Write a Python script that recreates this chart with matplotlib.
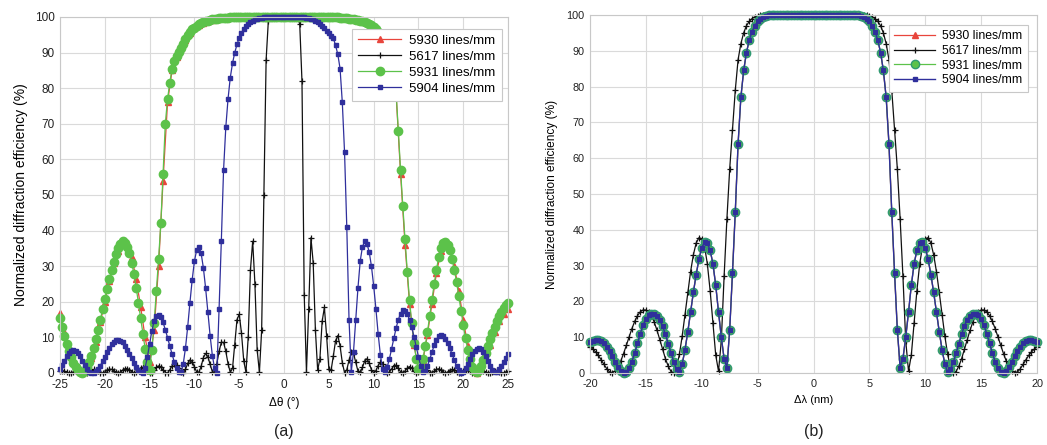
import numpy as np
import matplotlib
matplotlib.use('Agg')
import matplotlib.pyplot as plt

plt.rcParams['font.family'] = ['Liberation Sans', 'DejaVu Sans']
plt.rcParams['axes.unicode_minus'] = False

labels = ['5930 lines/mm', '5617 lines/mm', '5931 lines/mm', '5904 lines/mm']
colors = ['#e8453c', '#111111', '#5cc24a', '#2f2f9c']

# ---- panel (a): angular selectivity, sampled every 0.25 deg (red every 0.5 deg)
theta = np.linspace(-25, 25, 201)
theta_red = np.linspace(-25, 25, 101)

eff_a_5930 = [
    16.8, 11.5, 7, 3.5, 1.2, 0.1, 1.2, 4.3, 8.8, 14.2,
    20, 25.8, 30.8, 34.4, 36.5, 36, 32.5, 26.5, 18.5, 10,
    3, 12, 30, 54, 76, 85, 88.8, 91.2, 93.6, 95.6,
    96.9, 97.8, 98.4, 98.9, 99.2, 99.4, 99.6, 99.8, 99.9,
    100, 100, 100, 100, 100, 100, 100, 100, 100, 100, 100, 100,
    100, 100, 100, 100, 100, 100, 100, 100, 100, 100, 100,
    99.9, 99.8, 99.6, 99.4, 99.1, 98.9, 98.5, 98, 97.1, 95.7,
    93.8, 91.2, 87.5, 78.5, 56, 36, 19.5, 8, 0.8, 3.5,
    10.8, 19.5, 28, 34.2, 36.5, 35, 30, 23, 15, 7.5,
    2.4, 0.1, 1.3, 4.3, 8, 11.5, 14.5, 16.5, 18,
]

eff_a_5617 = [
    0.62, 0.69, 0.53, 0.23, 0.02, 0.05, 0.33, 0.66, 0.8, 0.66,
    0.33, 0.05, 0.03, 0.33, 0.75, 0.99, 0.88, 0.5, 0.12, 0.0,
    0.28, 0.74, 1.07, 1.03, 0.65, 0.2, 0.0, 0.23, 0.76, 1.2,
    1.26, 0.87, 0.33, 0.0, 0.19, 0.8, 1.4, 1.6, 1.2, 0.5,
    0.05, 0.13, 0.8, 1.6, 2.0, 1.6, 0.8, 0.13, 0.03, 0.9,
    2.0, 2.6, 2.3, 1.3, 0.3, 0.03, 1.0, 2.7, 3.7, 3.2,
    1.7, 0.3, 0.2, 1.9, 4.3, 5.5, 4.6, 2.4, 0.4, 0.2,
    2.6, 6.1, 8.6, 8.6, 6.1, 2.6, 0.2, 1.3, 8.0, 15.0,
    16.5, 11.2, 3.5, 0.2, 10, 29, 37, 25, 6.5, 0.2,
    12, 50, 88, 99,
    100, 100, 100, 100, 100, 100, 100, 100, 100, 100, 100, 100, 100,
    98, 82, 22, 0.3, 18, 38, 31, 12, 0.8, 4.0,
    14.5, 18.4, 10.4, 1.1, 0.8, 4.8, 9.1, 10.5, 7.6, 2.9,
    0.1, 0.9, 3.6, 5.8, 5.5, 3.0, 0.5, 0.15, 1.6, 3.4,
    4.0, 2.8, 0.9, 0.0, 0.67, 2.1, 3.0, 2.6, 1.2, 0.1,
    0.2, 1.15, 2.1, 2.2, 1.4, 0.34, 0.0, 0.56, 1.4, 1.8,
    1.4, 0.56, 0.0, 0.22, 0.9, 1.44, 1.37, 0.75, 0.13, 0.05,
    0.48, 1.02, 1.19, 0.83, 0.27, 0.0, 0.22, 0.69, 1.0, 0.85,
    0.4, 0.04, 0.08, 0.45, 0.82, 0.87, 0.54, 0.13, 0.0, 0.25,
    0.62, 0.8, 0.62, 0.25, 0.0, 0.1, 0.42, 0.67, 0.64, 0.35,
    0.06, 0.02, 0.24, 0.51,
]

eff_a_5931 = [
    15.5, 13, 10.5, 8.2, 6.2, 4.4, 2.9, 1.7, 0.8, 0.3,
    0.1, 0.6, 1.6, 3, 4.8, 7, 9.5, 12.2, 15, 17.9,
    20.8, 23.6, 26.3, 28.9, 31.2, 33.3, 35, 36.3, 37, 36.6,
    35.5, 33.6, 31, 27.8, 24, 19.8, 15.4, 11, 6.8, 3.2,
    0.8, 6.5, 14, 23, 32, 42, 56, 70, 77, 81.5,
    85.5, 87.5, 89, 90.2, 91.3, 92.5, 93.8, 95, 95.8, 96.5,
    97, 97.5, 97.9, 98.2, 98.5, 98.8, 99, 99.2, 99.3, 99.4,
    99.5, 99.6, 99.7, 99.7, 99.8, 99.8, 99.9,
    100, 100, 100, 100, 100, 100, 100, 100, 100, 100,
    100, 100, 100, 100, 100, 100, 100, 100, 100, 100,
    100, 100, 100, 100, 100, 100, 100, 100, 100, 100,
    100, 100, 100, 100, 100, 100, 100, 100, 100, 100,
    100, 100, 100, 100, 100, 100, 100,
    99.9, 99.8, 99.8, 99.7, 99.6, 99.5, 99.4, 99.3, 99.2, 99.1,
    99, 98.8, 98.6, 98.4, 98.1, 97.7, 97.2, 96.6, 95.9, 95,
    94, 92.8, 91.4, 89.8, 87.8, 84.8, 79, 68, 57, 47,
    37.5, 28.5, 20.5, 14, 8.5, 4, 1, 1.5, 4, 7.5,
    11.5, 16, 20.5, 25, 29, 32.5, 35, 36.5, 36.8, 36,
    34.5, 32, 29, 25.5, 21.5, 17.5, 13.5, 9.8, 6.5, 3.8,
    1.8, 0.6, 0.2, 0.8, 2, 3.6, 5.5, 7.5, 9.5, 11.3,
    13, 14.6, 16, 17.2, 18.2, 19, 19.6,
]

eff_a_5904 = [
    1.2, 2.3, 3.5, 4.7, 5.6, 6.3, 6.5, 6.3, 5.6, 4.7,
    3.5, 2.3, 1.2, 0.4, 0.0, 0.1, 0.45, 1.2, 2.1, 3.3,
    4.6, 5.8, 7.0, 8.1, 8.8, 9.3, 9.4, 9.1, 8.6, 7.7,
    6.6, 5.3, 4.1, 2.8, 1.7, 0.8, 0.25, 0.05, 1.5, 4.5,
    8.2, 11.8, 14.6, 16.1, 16.3, 15.6, 14.2, 12.2, 9.9, 7.5,
    5.2, 3.1, 1.4, 0.3, 0.2, 2.5, 7.0, 13.0, 19.8, 26.2,
    31.4, 34.6, 35.5, 33.6, 29.5, 23.8, 17.1, 10.5, 4.9, 1.3,
    0.1, 18, 37, 57, 69, 77, 83, 87, 90, 92.3,
    94.2, 95.5, 96.7, 97.5, 98.1, 98.6, 99, 99.3, 99.5, 99.7,
    99.8,
    100, 100, 100, 100, 100, 100, 100, 100, 100, 100,
    100, 100, 100, 100, 100, 100, 100, 100, 100,
    99.8, 99.7, 99.5, 99.3, 99, 98.6, 98.1, 97.5, 96.8, 96.2,
    95.4, 94.8, 94, 92, 89.5, 85.5, 76, 62, 41, 15,
    0.3, 6, 15, 24, 31.5, 35.5, 37, 36.3, 34, 30,
    24.5, 18, 11, 5, 1.2, 0.3, 1.6, 3.9, 6.8, 9.8,
    12.6, 15, 16.7, 17.6, 17.5, 16.6, 15, 12.8, 10.2, 7.3,
    4.5, 2, 0.4, 0.6, 2, 3.8, 5.8, 7.8, 9.4, 10.4,
    10.7, 10.4, 9.6, 8.4, 6.9, 5.3, 3.6, 2, 0.8, 0.1,
    0.4, 1.3, 2.5, 3.9, 5.2, 6.2, 6.8, 7, 6.7, 5.9,
    4.8, 3.4, 2, 0.9, 0.2, 0.3, 1, 2, 3.1, 4.2,
    5.3,
]

# ---- panel (b): spectral selectivity, sampled every 0.25 nm
dlam = np.linspace(-20, 20, 161)

eff_b_5930 = [
    8.6, 9, 9.2, 9.2, 8.9, 8.3, 7.4, 6.2, 4.8, 3.2,
    1.7, 0.6, 0.1, 0.3, 1.4, 3.2, 5.6, 8.3, 11, 13.3,
    15, 16.1, 16.6, 16.5, 16, 14.9, 13.1, 10.8, 8.2, 5.5,
    3, 1, 0.3, 2.5, 6.5, 11.5, 17, 22.5, 27.5, 31.8,
    35, 36.5, 36.2, 34.3, 30.5, 24.5, 17, 10, 4, 1.5,
    12, 28, 45, 64, 77, 84.5, 89.5, 93, 95.3, 97,
    98.2, 99, 99.5, 99.8, 99.9,
    100, 100, 100, 100, 100, 100, 100, 100, 100, 100,
    100, 100, 100, 100, 100, 100, 100, 100, 100, 100,
    100, 100, 100, 100, 100, 100, 100, 100, 100, 100,
    100,
    99.9, 99.8, 99.5, 99, 98.2, 97, 95.3, 93, 89.5, 84.5,
    77, 64, 45, 28, 12, 1.5, 4, 10, 17, 24.5,
    30.5, 34.3, 36.2, 36.5, 35, 31.8, 27.5, 22.5, 17, 11.5,
    6.5, 2.5, 0.3, 1, 3, 5.5, 8.2, 10.8, 13.1, 14.9,
    16, 16.5, 16.6, 16.1, 15, 13.3, 11, 8.3, 5.6, 3.2,
    1.4, 0.3, 0.1, 0.6, 1.7, 3.2, 4.8, 6.2, 7.4, 8.3,
    8.9, 9.2, 9.2, 9, 8.6,
]
# 5931 and 5904 lines/mm lie on top of the 5930 curve in (b)
eff_b_5931 = eff_b_5930
eff_b_5904 = eff_b_5930

eff_b_5617 = [
    7.3, 6.7, 5.9, 4.9, 3.7, 2.4, 1.2, 0.3, 0.1, 0.6,
    1.7, 3.3, 5.4, 7.7, 10.1, 12.4, 14.4, 16, 17.1, 17.6,
    17.6, 17.1, 16, 14.2, 11.9, 9.3, 6.6, 4, 1.9, 0.4,
    0.1, 1.6, 5.2, 10.3, 16.3, 22.5, 28.3, 33, 36.3, 37.8,
    37.5, 35.3, 30.5, 23, 14, 5, 0.5, 9, 27, 43,
    57, 68, 79, 87.5, 92, 95, 97, 98.2, 99, 99.5,
    99.8,
    100, 100, 100, 100, 100, 100, 100, 100, 100, 100,
    100, 100, 100, 100, 100, 100, 100, 100, 100, 100,
    100, 100, 100, 100, 100, 100, 100, 100, 100, 100,
    100, 100, 100, 100, 100, 100, 100, 100, 100,
    99.8, 99.5, 99, 98.2, 97, 95, 92, 87.5, 79, 68,
    57, 43, 27, 9, 0.5, 5, 14, 23, 30.5, 35.3,
    37.5, 37.8, 36.3, 33, 28.3, 22.5, 16.3, 10.3, 5.2, 1.6,
    0.1, 0.4, 1.9, 4, 6.6, 9.3, 11.9, 14.2, 16, 17.1,
    17.6, 17.6, 17.1, 16, 14.4, 12.4, 10.1, 7.7, 5.4, 3.3,
    1.7, 0.6, 0.1, 0.3, 1.2, 2.4, 3.7, 4.9, 5.9, 6.7,
    7.3,
]

for arr, n in [(eff_a_5930, 101), (eff_a_5617, 201), (eff_a_5931, 201), (eff_a_5904, 201),
               (eff_b_5930, 161), (eff_b_5617, 161)]:
    assert len(arr) == n, (len(arr), n)

fig = plt.figure(figsize=(10.47, 4.45), dpi=100)
ax1 = fig.add_axes([0.0573, 0.1618, 0.428, 0.800])
ax2 = fig.add_axes([0.5635, 0.1618, 0.427, 0.8045])


def style(ax, ticksize):
    ax.set_ylim(0, 100)
    ax.set_yticks(np.arange(0, 101, 10))
    ax.grid(True, color='#dadada', lw=0.8)
    ax.set_axisbelow(True)
    for s in ax.spines.values():
        s.set_color('#c8c8c8')
        s.set_linewidth(0.8)
    ax.tick_params(length=0, labelsize=ticksize, labelcolor='#222222', pad=4)


# panel (a)
ax1.plot(theta_red, eff_a_5930, color=colors[0], marker='^', ms=4.5, lw=0.9, label=labels[0], clip_on=False)
ax1.plot(theta, eff_a_5617, color=colors[1], marker='+', ms=4, mew=0.9, lw=0.9, label=labels[1], clip_on=False)
ax1.plot(theta, eff_a_5931, color=colors[2], marker='o', ms=6, lw=0.9, label=labels[2], clip_on=False)
ax1.plot(theta, eff_a_5904, color=colors[3], marker='s', ms=2.6, lw=0.9, label=labels[3], clip_on=False)
ax1.set_xlim(-25, 25)
ax1.set_xticks(np.arange(-25, 26, 5))
style(ax1, 8.5)
ax1.set_xlabel('\u0394\u03b8 (\u00b0)', fontsize=8.5, labelpad=5)
ax1.set_ylabel('Normalized diffraction efficiency (%)', fontsize=10, labelpad=5)
leg1 = ax1.legend(loc='upper right', bbox_to_anchor=(1.0, 0.985), fontsize=9.5, handlelength=3.3,
                  handletextpad=0.6, labelspacing=0.28, borderpad=0.45, fancybox=False,
                  framealpha=1, edgecolor='#c8c8c8')
leg1.get_frame().set_linewidth(0.8)

# panel (b)
ax2.plot(dlam, eff_b_5930, color=colors[0], marker='^', ms=4.5, lw=0.9, label=labels[0], clip_on=False)
ax2.plot(dlam, eff_b_5617, color=colors[1], marker='+', ms=4, mew=0.9, lw=0.9, label=labels[1], clip_on=False)
ax2.plot(dlam, eff_b_5931, color=colors[2], marker='o', ms=6, mec='#2f9a72', lw=0.9, label=labels[2],
         clip_on=False)
ax2.plot(dlam, eff_b_5904, color=colors[3], marker='s', ms=2.6, lw=1.0, label=labels[3], clip_on=False)
ax2.set_xlim(-20, 20)
ax2.set_xticks(np.arange(-20, 21, 5))
style(ax2, 7.8)
ax2.set_xlabel('\u0394\u03bb (nm)', fontsize=8, labelpad=5)
ax2.set_ylabel('Normalized diffraction efficiency (%)', fontsize=8.6, labelpad=6)
leg2 = ax2.legend(loc='upper right', bbox_to_anchor=(0.993, 0.99), fontsize=8.8, handlelength=3.3,
                  handletextpad=0.6, labelspacing=0.22, borderpad=0.45, fancybox=False,
                  framealpha=1, edgecolor='#c8c8c8')
leg2.get_frame().set_linewidth(0.8)

fig.text(0.271, 0.03, '(a)', fontsize=11.5, ha='center', va='center', color='#222222')
fig.text(0.777, 0.03, '(b)', fontsize=11.5, ha='center', va='center', color='#222222')

plt.savefig('out.png', dpi=100)
